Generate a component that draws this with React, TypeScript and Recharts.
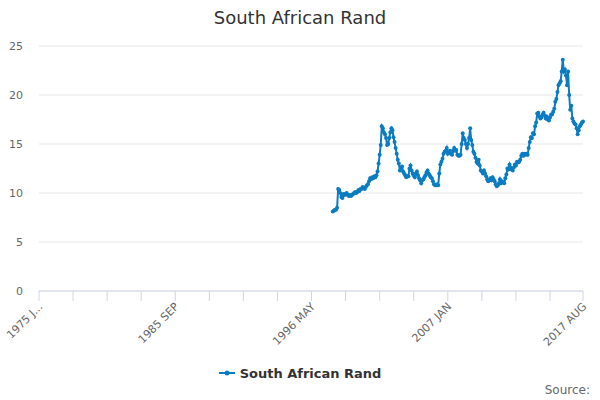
import React from "react";
import { LineChart, Line, XAxis, YAxis, CartesianGrid } from "recharts";

// monthly categories, 1975 JAN .. 2017 AUG
const MONTHS = ["JAN", "FEB", "MAR", "APR", "MAY", "JUN", "JUL", "AUG", "SEP", "OCT", "NOV", "DEC"];
const FIRST_YEAR = 1975;
const CATEGORY_COUNT = 512;

// series starts at 1998 JAN
const SERIES_START = "1998 JAN";
const r1998 = [8.1, 8.2, 8.3, 8.3, 8.5, 10.4, 10.3, 10.0, 9.6, 9.5, 9.9, 9.8];
const r1999 = [9.9, 10.0, 9.8, 9.7, 9.8, 9.7, 9.8, 9.9, 10.0, 10.1, 10.0, 10.1];
const r2000 = [10.3, 10.2, 10.4, 10.4, 10.6, 10.5, 10.4, 10.6, 10.8, 10.9, 11.2, 11.5];
const r2001 = [11.4, 11.6, 11.5, 11.7, 11.6, 11.8, 12.2, 13.0, 13.9, 14.9, 16.8, 16.6];
const r2002 = [16.2, 16.0, 15.6, 14.9, 15.0, 15.6, 16.2, 16.6, 16.4, 15.7, 15.2, 14.6];
const r2003 = [14.0, 13.4, 13.0, 12.3, 12.6, 12.7, 12.2, 12.0, 11.8, 11.6, 11.7, 11.7];
const r2004 = [12.5, 12.8, 12.3, 12.0, 11.8, 11.6, 12.0, 12.2, 11.8, 11.5, 11.3, 11.0];
const r2005 = [11.3, 11.4, 11.6, 11.8, 12.1, 12.3, 12.0, 11.8, 11.6, 11.5, 11.2, 10.9];
const r2006 = [10.8, 10.8, 10.9, 10.8, 12.0, 12.9, 13.2, 13.5, 14.0, 14.2, 14.3, 14.6];
const r2007 = [14.0, 14.2, 14.3, 14.0, 13.9, 14.3, 14.6, 14.3, 14.4, 13.9, 13.8, 13.8];
const r2008 = [13.9, 15.0, 16.1, 15.6, 15.4, 15.0, 14.6, 15.0, 15.6, 16.6, 15.4, 14.9];
const r2009 = [14.2, 14.0, 13.6, 13.2, 13.0, 13.4, 12.8, 12.3, 12.2, 12.0, 12.3, 12.0];
const r2010 = [11.7, 11.4, 11.2, 11.3, 11.5, 11.3, 11.6, 11.4, 11.2, 10.9, 10.7, 10.8];
const r2011 = [11.0, 11.4, 11.0, 11.2, 11.1, 11.0, 11.5, 11.9, 12.5, 12.4, 12.9, 12.6];
const r2012 = [12.4, 12.3, 12.6, 12.9, 12.8, 13.2, 13.1, 13.2, 13.4, 13.8, 14.0, 13.8];
const r2013 = [14.0, 13.9, 14.0, 13.9, 14.6, 15.2, 15.7, 15.6, 16.1, 16.0, 16.8, 17.2];
const r2014 = [18.1, 18.2, 17.8, 17.6, 17.7, 18.0, 18.2, 17.9, 17.6, 17.8, 17.5, 17.4];
const r2015 = [17.7, 18.0, 18.0, 18.3, 18.6, 19.3, 19.6, 20.3, 21.0, 21.2, 21.4, 22.4];
const r2016 = [23.6, 22.4, 22.6, 22.0, 21.0, 22.4, 20.0, 18.5, 18.9, 17.6, 17.3, 17.1];
const r2017 = [17.0, 16.6, 16.0, 16.4, 16.8, 17.0, 17.2, 17.3];

const randValues = [
  ...r1998, ...r1999, ...r2000, ...r2001, ...r2002, ...r2003, ...r2004,
  ...r2005, ...r2006, ...r2007, ...r2008, ...r2009, ...r2010, ...r2011,
  ...r2012, ...r2013, ...r2014, ...r2015, ...r2016, ...r2017,
];

const yTicks = [0, 5, 10, 15, 20, 25];
const xLabels: Record<string, string> = {
  "1975 JAN": "1975 J...",
  "1985 SEP": "1985 SEP",
  "1996 MAY": "1996 MAY",
  "2007 JAN": "2007 JAN",
  "2017 AUG": "2017 AUG",
};

const categories = Array.from({ length: CATEGORY_COUNT }, (_, i) =>
  `${FIRST_YEAR + Math.floor(i / 12)} ${MONTHS[i % 12]}`
);
const startIdx = categories.indexOf(SERIES_START);
const data = categories.map((label, i) => ({
  label,
  rand: i >= startIdx ? randValues[i - startIdx] : null,
}));
// axis tick marks every 32 months plus the last category
const xTicks = [
  ...categories.filter((_, i) => i % 32 === 0),
  categories[categories.length - 1],
];

const BLUE = "#0b7cc1";
const FONT = "'DejaVu Sans', sans-serif";

function XTick({ x, y, payload }: any) {
  const text = xLabels[payload.value];
  if (!text) return null;
  return (
    <text
      x={x}
      y={y}
      dy={6}
      textAnchor="end"
      transform={`rotate(-45, ${x}, ${y})`}
      fill="#666"
      fontSize={11}
      fontFamily={FONT}
    >
      {text}
    </text>
  );
}

export default function App() {
  return (
    <div style={{ position: "absolute", left: 0, top: 0, width: 600, height: 400, fontFamily: FONT, background: "#fff" }}>
      <div style={{ position: "absolute", top: 7, left: 0, width: 600, textAlign: "center", fontSize: 18, lineHeight: "22px", color: "#333" }}>
        South African Rand
      </div>
      <LineChart width={600} height={400} data={data} margin={{ top: 46, right: 17, bottom: 0, left: 0 }}>
        <CartesianGrid vertical={false} stroke="#e6e6e6" />
        <XAxis
          dataKey="label"
          ticks={xTicks}
          interval={0}
          height={109}
          tickSize={10}
          axisLine={{ stroke: "#ccd6eb" }}
          tickLine={{ stroke: "#ccd6eb" }}
          tick={<XTick />}
        />
        <YAxis
          domain={[0, 25]}
          ticks={yTicks}
          width={39}
          axisLine={false}
          tickLine={false}
          tickMargin={10}
          tick={{ fill: "#666", fontSize: 11, fontFamily: FONT }}
        />
        <Line
          dataKey="rand"
          stroke={BLUE}
          strokeWidth={2}
          dot={{ r: 2, fill: BLUE, stroke: BLUE, strokeWidth: 0 }}
          activeDot={false}
          isAnimationActive={false}
        />
      </LineChart>
      <div style={{ position: "absolute", top: 365, left: 0, width: 600, display: "flex", justifyContent: "center", alignItems: "center", height: 16 }}>
        <svg width={16} height={10} style={{ marginRight: 5 }}>
          <line x1={0} y1={5} x2={16} y2={5} stroke={BLUE} strokeWidth={2} />
          <circle cx={8} cy={5} r={2.5} fill={BLUE} />
        </svg>
        <span style={{ fontSize: 13, fontWeight: "bold", color: "#333" }}>South African Rand</span>
      </div>
      <div style={{ position: "absolute", top: 382, right: 10, fontSize: 12, lineHeight: "16px", color: "#666" }}>
        Source:
      </div>
    </div>
  );
}
